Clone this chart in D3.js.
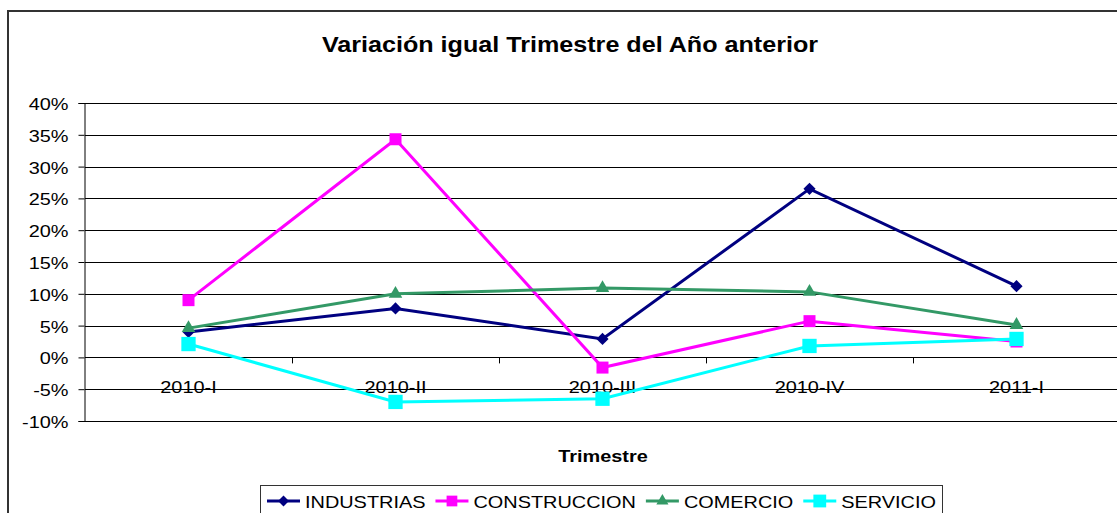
<!DOCTYPE html>
<html>
<head>
<meta charset="utf-8">
<script src="https://cdn.jsdelivr.net/npm/d3@7"></script>
<style>
  html, body { margin: 0; padding: 0; background: #fff; }
  svg { display: block; font-family: "Liberation Sans", Arial, sans-serif; }
</style>
</head>
<body>
<div id="chart"></div>
<script>
// datos (en %)
const trimestres = ['2010-I', '2010-II', '2010-III', '2010-IV', '2011-I'];
const industrias   = [4.0, 7.7, 2.9, 26.5, 11.2];
const construccion = [9.0, 34.3, -1.6, 5.7, 2.5];
const comercio     = [4.6, 10.0, 10.9, 10.3, 5.1];
const servicio     = [2.1, -7.0, -6.5, 1.8, 2.9];
const yTicks = [-10, -5, 0, 5, 10, 15, 20, 25, 30, 35, 40];

const series = [
  { name: 'INDUSTRIAS',   values: industrias,   color: '#000080', symbol: 'diamond' },
  { name: 'CONSTRUCCION', values: construccion, color: '#ff00ff', symbol: 'square' },
  { name: 'COMERCIO',     values: comercio,     color: '#339966', symbol: 'triangle' },
  { name: 'SERVICIO',     values: servicio,     color: '#00ffff', symbol: 'bigsquare' }
];

const width = 1117, height = 513;
const plotLeft = 85, plotRight = 1120, plotTop = 103, plotBottom = 421;
const sx = 1.17; // texto algo ensanchado como en el original

const svg = d3.select('#chart').append('svg')
  .attr('width', width)
  .attr('height', height);

function stretch(sel) {
  sel.attr('transform', function () {
    const x = +this.getAttribute('x') || 0;
    return `matrix(${sx},0,0,1,${-(sx - 1) * x},0)`;
  });
}

function symbolPath(kind, legend) {
  const k = legend ? 0.8 : 1;
  if (kind === 'diamond') return d3.symbol(d3.symbolSquare, 74 * k)();
  if (kind === 'square') return d3.symbol(d3.symbolSquare, 144 * k)();
  if (kind === 'bigsquare') return d3.symbol(d3.symbolSquare, 256 * k * 0.8)();
  return d3.symbol(d3.symbolTriangle, 80 * k)();
}

// borde del area del grafico
svg.append('rect')
  .attr('x', 8).attr('y', 11)
  .attr('width', 1200).attr('height', 600)
  .attr('fill', 'none')
  .attr('stroke', '#333')
  .attr('stroke-width', 2);

const x = d3.scalePoint().domain(trimestres).range([plotLeft, plotRight]).padding(0.5);
const xb = d3.scaleBand().domain(trimestres).range([plotLeft, plotRight]);
const y = d3.scaleLinear().domain([-10, 40]).range([plotBottom, plotTop]);

// titulo
svg.append('text')
  .attr('x', 570).attr('y', 52)
  .attr('text-anchor', 'middle')
  .attr('font-size', 21.5)
  .attr('font-weight', 'bold')
  .text('Variación igual Trimestre del Año anterior')
  .call(stretch);

// lineas de division
svg.append('g')
  .selectAll('line')
  .data(yTicks)
  .join('line')
  .attr('x1', plotLeft).attr('x2', plotRight)
  .attr('y1', d => Math.round(y(d)) + 0.5)
  .attr('y2', d => Math.round(y(d)) + 0.5)
  .attr('stroke', '#000')
  .attr('stroke-width', 1);

// eje Y
const yAxis = svg.append('g')
  .attr('transform', `translate(${plotLeft - 0.5},0)`)
  .call(d3.axisLeft(y).tickValues(yTicks).tickFormat(d => d + '%').tickSize(6).tickPadding(10));
yAxis.select('.domain').attr('stroke', '#000');
yAxis.selectAll('.tick line').attr('stroke', '#000');
yAxis.selectAll('.tick text')
  .attr('font-size', 17)
  .attr('font-family', '"Liberation Sans", Arial, sans-serif')
  .attr('fill', '#000')
  .attr('dy', '0.38em')
  .call(stretch);

// marcas del eje X en y = 0
svg.append('g')
  .selectAll('line')
  .data(trimestres.slice(1))
  .join('line')
  .attr('x1', d => Math.round(xb(d)) + 0.5)
  .attr('x2', d => Math.round(xb(d)) + 0.5)
  .attr('y1', y(0))
  .attr('y2', y(0) + 6)
  .attr('stroke', '#000');

svg.append('g')
  .selectAll('text')
  .data(trimestres)
  .join('text')
  .attr('x', d => x(d))
  .attr('y', y(0) + 36)
  .attr('text-anchor', 'middle')
  .attr('font-size', 17)
  .text(d => d)
  .call(stretch);

// titulo del eje X
svg.append('text')
  .attr('x', 603).attr('y', 462)
  .attr('text-anchor', 'middle')
  .attr('font-size', 17)
  .attr('font-weight', 'bold')
  .text('Trimestre')
  .call(stretch);

// series
const line = d3.line()
  .x((d, i) => x(trimestres[i]))
  .y(d => y(d));

series.forEach(s => {
  const g = svg.append('g');
  g.append('path')
    .datum(s.values)
    .attr('d', line)
    .attr('fill', 'none')
    .attr('stroke', s.color)
    .attr('stroke-width', 3);
  g.selectAll('path.m')
    .data(s.values)
    .join('path')
    .attr('class', 'm')
    .attr('d', symbolPath(s.symbol, false))
    .attr('transform', (d, i) => `translate(${x(trimestres[i])},${y(d)})` + (s.symbol === 'diamond' ? ' rotate(45)' : ''))
    .attr('fill', s.color);
});

// leyenda
const legend = svg.append('g');
legend.append('rect')
  .attr('x', 260.5).attr('y', 485.5)
  .attr('width', 682).attr('height', 60)
  .attr('fill', '#fff')
  .attr('stroke', '#333')
  .attr('stroke-width', 1);

let lx = 267;
series.forEach(s => {
  const g = legend.append('g');
  g.append('line')
    .attr('x1', lx).attr('x2', lx + 33)
    .attr('y1', 501).attr('y2', 501)
    .attr('stroke', s.color)
    .attr('stroke-width', 3);
  g.append('path')
    .attr('d', symbolPath(s.symbol, true))
    .attr('transform', `translate(${lx + 16.5},501)` + (s.symbol === 'diamond' ? ' rotate(45)' : ''))
    .attr('fill', s.color);
  const t = g.append('text')
    .attr('x', lx + 38)
    .attr('y', 508)
    .attr('font-size', 17)
    .text(s.name)
    .call(stretch);
  lx += 38 + t.node().getComputedTextLength() * sx + 10;
});
</script>
</body>
</html>
